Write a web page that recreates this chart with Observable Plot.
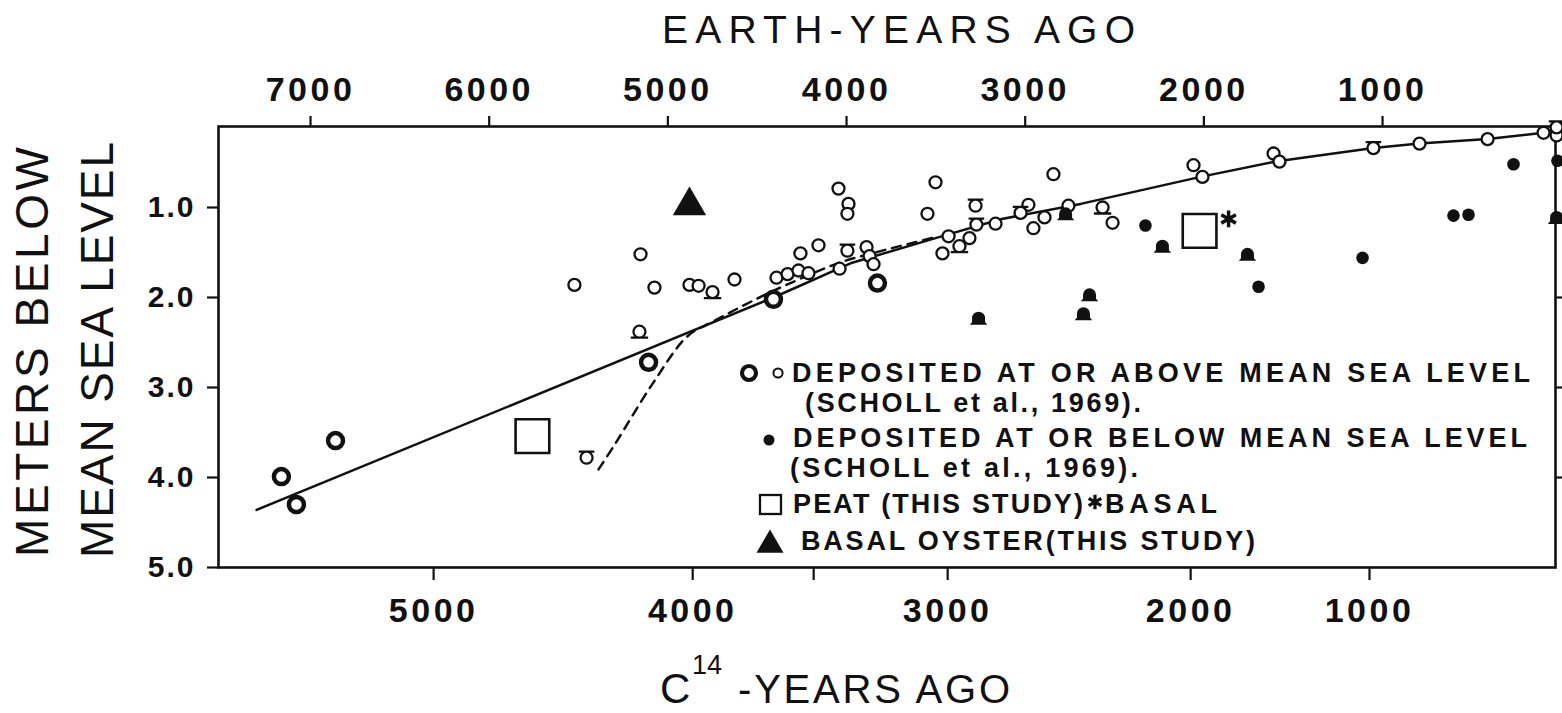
<!DOCTYPE html>
<html>
<head>
<meta charset="utf-8">
<script src="https://cdn.jsdelivr.net/npm/d3@7"></script>
<script src="https://cdn.jsdelivr.net/npm/@observablehq/plot@0.6"></script>
<style>
  html, body { margin: 0; padding: 0; background: #fff; }
  #chart svg { display: block; }
  g[aria-label="x-axis tick label"] text { font-weight: bold; letter-spacing: 3.5px; }
  g[aria-label="y-axis tick label"] text { font-weight: bold; letter-spacing: 2px; }
</style>
</head>
<body>
<div id="chart"></div>
<script>
// Sea-level curve: depth below mean sea level (m) against age in earth (calendar) years.
// Every sample is [earth years ago, metres below MSL].

// Axis ticks
const earthTicks = [7000, 6000, 5000, 4000, 3000, 2000, 1000];
const depthTicks = [1, 2, 3, 4, 5];
// C14 ages sit at their calibrated earth-year positions on the lower axis
const c14TickEarth = [6311, 4861, 4184, 3434, 2074, 1073];
const c14TickText = ["5000", "4000", "", "3000", "2000", "1000"];

// Deposited at or above mean sea level (Scholl et al., 1969) – heavy rings
const ringsAbove = [[7163, 3.99], [7079, 4.30], [6860, 3.59], [5108, 2.72], [4409, 2.02], [3827, 1.84]];

// Deposited at or above mean sea level – small open circles
const circlesAbove = [
  [5523, 1.86], [5153, 1.52], [5075, 1.89], [4879, 1.86], [4828, 1.87], [4627, 1.80],
  [4392, 1.78], [4330, 1.74], [4269, 1.70], [4258, 1.51], [4213, 1.73], [4157, 1.42],
  [4045, 0.79], [3989, 0.96], [3995, 1.07], [4039, 1.68], [3888, 1.44], [3871, 1.54],
  [3849, 1.63], [3502, 0.72], [3547, 1.07], [3429, 1.32], [3463, 1.51], [3312, 1.34],
  [3166, 1.18], [2982, 0.97], [2954, 1.23], [2892, 1.11], [2842, 0.63], [2758, 0.98],
  [2511, 1.17], [2058, 0.53], [2008, 0.66], [1610, 0.40], [1577, 0.49], [793, 0.29],
  [412, 0.24], [99, 0.17], [26, 0.20]
];

// Open circles standing on a base bar
const basedAbove = [[5159, 2.38], [4750, 1.94], [3368, 1.43], [2567, 1.00]];
// Open circles capped by a bar
const cappedAbove = [[3278, 0.98], [3273, 1.19], [3026, 1.06], [1051, 0.34], [26, 0.11], [3995, 1.48], [5455, 3.78]];

// Deposited at or below mean sea level (Scholl et al., 1969)
const dotsBelow = [[2327, 1.20], [1694, 1.88], [1112, 1.56], [603, 1.09], [519, 1.08], [267, 0.52], [21, 0.48]];
const bellsBelow = [[2232, 1.43], [1756, 1.52], [2640, 1.97], [2674, 2.18], [3261, 2.23], [26, 1.11], [2774, 1.07]];

// Peat (this study); the second one is basal
const peatSamples = [[5758, 3.54], [2024, 1.26]];
const peatBasal = [false, true];
// Basal oyster (this study)
const oysterSamples = [[4879, 0.98]];

// Fitted sea-level curves
const trendSolid = [
  [7302, 4.36], [4409, 2.00], [3978, 1.62], [3502, 1.34], [3138, 1.13], [2690, 0.96],
  [2019, 0.66], [1599, 0.49], [1051, 0.34], [793, 0.29], [412, 0.24], [99, 0.17], [32, 0.13]
];
const trendDashed = [
  [5388, 3.91], [5293, 3.62], [5086, 2.96], [4890, 2.43], [4750, 2.27], [4498, 2.01],
  [4314, 1.84], [4034, 1.61], [3782, 1.47], [3502, 1.33]
];

const ink = "#111";
const font = '"Liberation Sans", Arial, Helvetica, sans-serif';

// Custom dot shapes
const baseCircle = {
  draw(ctx, size) {
    const r = Math.sqrt(size / Math.PI);
    ctx.moveTo(r, 0);
    ctx.arc(0, 0, r, 0, 2 * Math.PI);
    ctx.moveTo(-1.45 * r, r);
    ctx.lineTo(1.45 * r, r);
  }
};
const capCircle = {
  draw(ctx, size) {
    const r = Math.sqrt(size / Math.PI);
    ctx.moveTo(r, 0);
    ctx.arc(0, 0, r, 0, 2 * Math.PI);
    ctx.moveTo(-1.3 * r, -r);
    ctx.lineTo(1.3 * r, -r);
  }
};
const bell = {
  draw(ctx, size) {
    const r = Math.sqrt(size / Math.PI);
    ctx.moveTo(-1.35 * r, r);
    ctx.lineTo(-r, 0.6 * r);
    ctx.lineTo(-r, 0);
    ctx.arc(0, 0, r, Math.PI, 2 * Math.PI);
    ctx.lineTo(r, 0.6 * r);
    ctx.lineTo(1.35 * r, r);
    ctx.closePath();
  }
};

const X = d => d[0], Y = d => d[1];

const svgNode = Plot.plot({
  width: 1562,
  height: 713,
  marginLeft: 218,
  marginRight: 7,
  marginTop: 126,
  marginBottom: 146,
  style: { fontFamily: font, background: "#fff", color: ink },
  x: { domain: [7515, 32] },
  y: { domain: [5.0, 0.1] },
  marks: [
    Plot.axisX({ anchor: "top", ticks: earthTicks, tickFormat: d => String(d), tickSize: 11, tickPadding: 15,
                 fontSize: 34, fontWeight: "bold", strokeWidth: 2.2, label: null }),
    Plot.axisX({ anchor: "bottom", ticks: c14TickEarth, tickFormat: d => c14TickText[c14TickEarth.indexOf(d)],
                 tickSize: 13, tickPadding: 17, fontSize: 34, fontWeight: "bold", strokeWidth: 2.2, label: null }),
    Plot.axisY({ anchor: "left", ticks: depthTicks, tickFormat: d => d.toFixed(1), tickSize: 11, tickPadding: 12,
                 fontSize: 30, fontWeight: "bold", strokeWidth: 2.2, label: null }),
    Plot.axisY({ anchor: "right", ticks: [2, 3, 4], tickFormat: () => "", tickSize: 8, strokeWidth: 2.2, label: null }),
    Plot.frame({ stroke: ink, strokeWidth: 2.6 }),
    Plot.line(trendSolid, { x: X, y: Y, stroke: ink, strokeWidth: 2.5 }),
    Plot.line(trendDashed, { x: X, y: Y, stroke: ink, strokeWidth: 2.5, strokeDasharray: "9,7", curve: "catmull-rom" }),
    Plot.dot(ringsAbove, { x: X, y: Y, r: 7.5, stroke: ink, strokeWidth: 4.5, fill: "white" }),
    Plot.dot(circlesAbove, { x: X, y: Y, r: 6, stroke: ink, strokeWidth: 2.3, fill: "white" }),
    Plot.dot(basedAbove, { x: X, y: Y, r: 6, symbol: baseCircle, stroke: ink, strokeWidth: 2.3, fill: "white" }),
    Plot.dot(cappedAbove, { x: X, y: Y, r: 6, symbol: capCircle, stroke: ink, strokeWidth: 2.3, fill: "white" }),
    Plot.dot(dotsBelow, { x: X, y: Y, r: 6.3, fill: ink, stroke: "none" }),
    Plot.dot(bellsBelow, { x: X, y: Y, r: 6.5, symbol: bell, fill: ink, stroke: "none" }),
    Plot.dot(peatSamples, { x: X, y: Y, r: 19, symbol: "square", stroke: ink, strokeWidth: 2.6, fill: "white" }),
    Plot.dot(peatSamples.filter((d, i) => peatBasal[i]), { x: X, y: Y, r: 8, symbol: "asterisk", stroke: ink,
                 strokeWidth: 3.5, dx: 29, dy: -12 }),
    Plot.dot(oysterSamples, { x: X, y: Y, r: 12.4, symbol: "triangle", fill: ink, stroke: "none" })
  ]
});

document.getElementById("chart").appendChild(svgNode);
const svg = d3.select(svgNode);

function label(txt, x, y, size, opts = {}) {
  const t = svg.append("text")
    .attr("x", x).attr("y", y)
    .attr("text-anchor", "start")
    .attr("font-size", size)
    .attr("font-family", font)
    .attr("font-weight", opts.weight || "normal")
    .attr("fill", ink)
    .text(txt);
  if (opts.length) t.attr("textLength", opts.length).attr("lengthAdjust", "spacing");
  if (opts.transform) t.attr("transform", opts.transform);
  return t;
}

// Axis titles
label("EARTH-YEARS AGO", 662, 43, 39, { length: 473 });
label("METERS BELOW", -557, 48, 46, { length: 410, transform: "rotate(-90)" });
label("MEAN SEA LEVEL", -558, 113, 46, { length: 416, transform: "rotate(-90)" });
label("C", 660, 703, 42);
label("14", 692, 674, 27);
label("-YEARS AGO", 738, 703, 40, { length: 272 });

// Legend
const lg = svg.append("g").attr("fill", ink).attr("stroke", ink);
lg.append("circle").attr("cx", 749).attr("cy", 373).attr("r", 7).attr("fill", "white").attr("stroke-width", 4.2);
lg.append("circle").attr("cx", 778).attr("cy", 373).attr("r", 4.6).attr("fill", "white").attr("stroke-width", 2);
lg.append("circle").attr("cx", 769).attr("cy", 440).attr("r", 5.5).attr("stroke", "none");
lg.append("rect").attr("x", 760).attr("y", 495).attr("width", 21).attr("height", 19).attr("fill", "white").attr("stroke-width", 2.3);
lg.append("path").attr("d", d3.symbol(d3.symbolAsterisk, 150)()).attr("transform", "translate(1095,502)")
  .attr("fill", "none").attr("stroke-width", 3.2);
lg.append("path").attr("d", d3.symbol(d3.symbolTriangle, 316)()).attr("transform", "translate(770,545)").attr("stroke", "none");

label("DEPOSITED AT OR ABOVE MEAN SEA LEVEL", 792, 382, 27, { weight: "bold", length: 738 });
label("(SCHOLL et al., 1969).", 805, 412, 27, { weight: "bold", length: 336 });
label("DEPOSITED AT OR BELOW MEAN SEA LEVEL", 793, 447, 27, { weight: "bold", length: 734 });
label("(SCHOLL et al., 1969).", 790, 477, 27, { weight: "bold", length: 348 });
label("PEAT (THIS STUDY)", 793, 513, 27, { weight: "bold", length: 290 });
label("BASAL", 1105, 513, 27, { weight: "bold", length: 112 });
label("BASAL OYSTER(THIS STUDY)", 801, 550, 27, { weight: "bold", length: 454 });
</script>
</body>
</html>
